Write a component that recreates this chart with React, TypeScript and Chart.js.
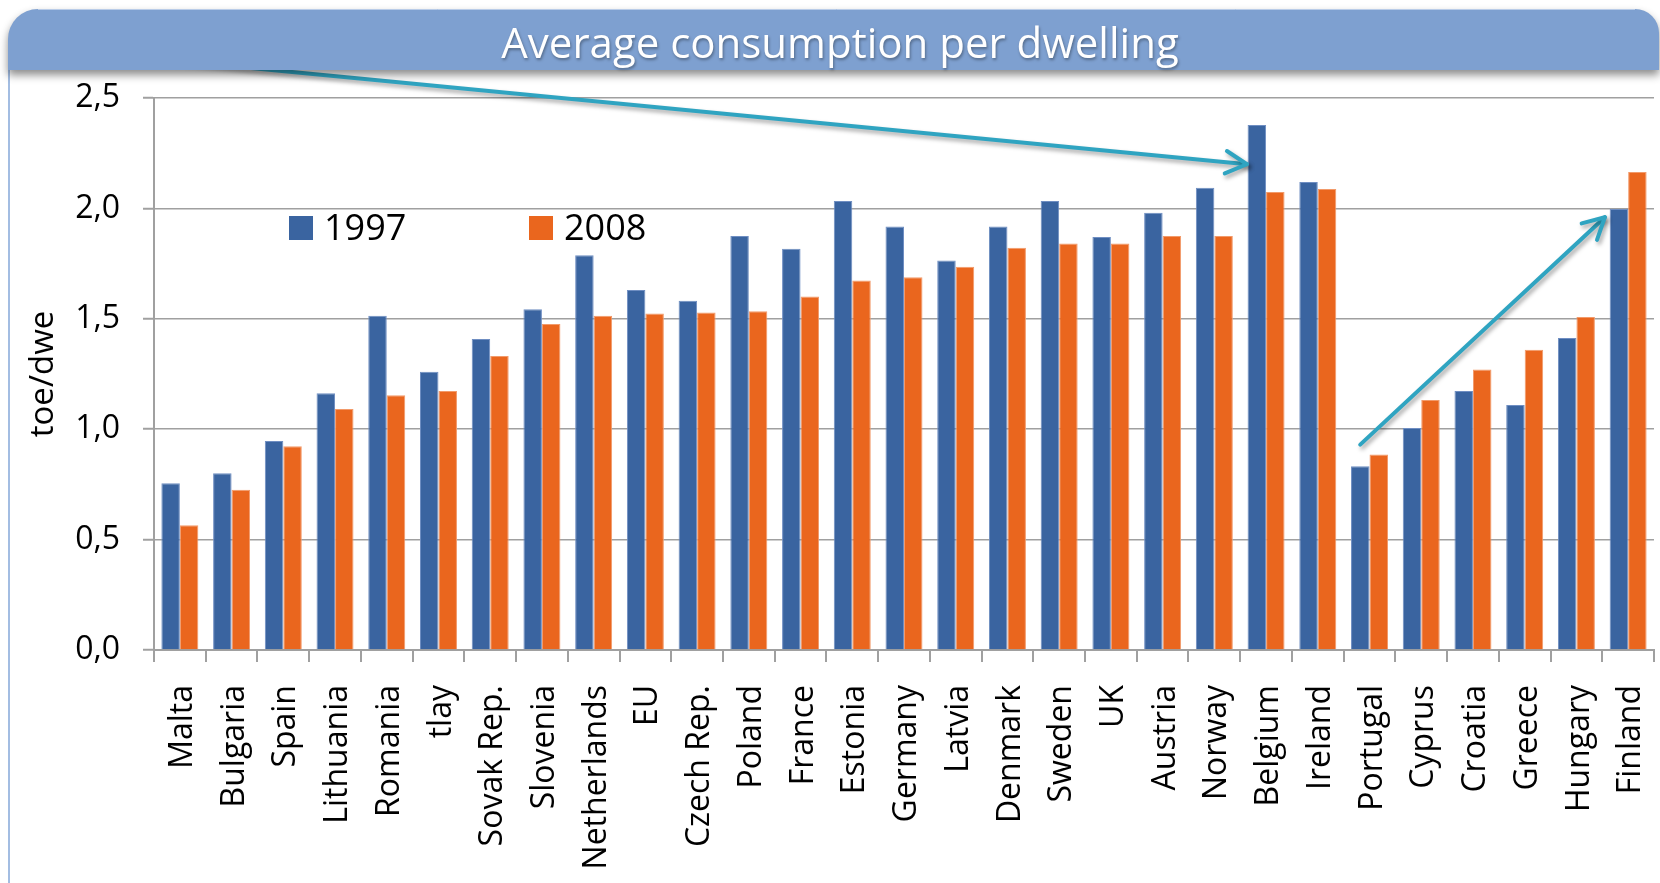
import React, { useEffect, useRef } from 'react';
import { Chart, registerables } from 'chart.js';

Chart.register(...registerables);

const categories = [
  'Malta', 'Bulgaria', 'Spain', 'Lithuania', 'Romania', 'tlay', 'Sovak Rep.', 'Slovenia',
  'Netherlands', 'EU', 'Czech Rep.', 'Poland', 'France', 'Estonia', 'Germany', 'Latvia',
  'Denmark', 'Sweden', 'UK', 'Austria', 'Norway', 'Belgium', 'Ireland', 'Portugal',
  'Cyprus', 'Croatia', 'Greece', 'Hungary', 'Finland',
];

const series1997 = [
  0.755, 0.80, 0.947, 1.163, 1.514, 1.26, 1.409, 1.543,
  1.788, 1.63, 1.582, 1.875, 1.817, 2.034, 1.918, 1.764,
  1.918, 2.034, 1.87, 1.98, 2.093, 2.378, 2.12, 0.832,
  1.006, 1.173, 1.11, 1.413, 1.997,
];

const series2008 = [
  0.565, 0.726, 0.923, 1.091, 1.154, 1.173, 1.332, 1.476,
  1.514, 1.524, 1.529, 1.534, 1.601, 1.673, 1.688, 1.736,
  1.822, 1.841, 1.841, 1.875, 1.875, 2.074, 2.088, 0.885,
  1.132, 1.27, 1.36, 1.508, 2.165,
];

const seriesLabels = ['1997', '2008'];
const yMin = 0;
const yMax = 2.5;
const yStep = 0.5;
const titleText = 'Average consumption per dwelling';
const yAxisTitle = 'toe/dwe';

// annotation arrows, in data units: [category index, value]
const arrowStarts = [[-0.58, 2.68], [22.82, 0.93]];
const arrowEnds = [[20.63, 2.2], [27.55, 1.96]];

const FONT = "'Open Sans', 'DejaVu Sans', sans-serif";
const BLUE = '#3A64A0';
const ORANGE = '#EA661E';
const TEAL = '#2FA4C1';
const GRID = '#A0A0A0';

const decorPlugin = {
  id: 'decor',
  beforeDraw(chart: any) {
    const { ctx, width, height } = chart;
    ctx.save();
    ctx.fillStyle = '#ffffff';
    ctx.fillRect(0, 0, width, height);
    ctx.strokeStyle = '#A3BDE2';
    ctx.lineWidth = 2;
    ctx.beginPath();
    ctx.moveTo(9, 60);
    ctx.lineTo(9, height);
    ctx.stroke();
    ctx.restore();
  },
  afterDatasetsDraw(chart: any) {
    const { ctx, chartArea } = chart;
    const colors = [BLUE, ORANGE];
    const offsets = [135, 375];
    ctx.save();
    ctx.font = `36px ${FONT}`;
    ctx.textBaseline = 'alphabetic';
    ctx.textAlign = 'left';
    seriesLabels.forEach((lab, i) => {
      const x = chartArea.left + offsets[i];
      const y = chartArea.top + 118;
      ctx.fillStyle = colors[i];
      ctx.fillRect(x, y, 24, 24);
      ctx.fillStyle = '#000';
      ctx.fillText(lab, x + 35, y + 24);
    });
    ctx.restore();
  },
  afterDraw(chart: any) {
    const { ctx, width } = chart;
    const xs = chart.scales.x;
    const ys = chart.scales.y;
    // arrows
    ctx.save();
    ctx.beginPath();
    ctx.rect(0, 70, width, chart.height);
    ctx.clip();
    ctx.strokeStyle = TEAL;
    ctx.lineWidth = 4;
    ctx.lineCap = 'round';
    ctx.lineJoin = 'round';
    ctx.shadowColor = 'rgba(0,0,0,0.35)';
    ctx.shadowBlur = 4;
    ctx.shadowOffsetX = 2;
    ctx.shadowOffsetY = 3;
    arrowStarts.forEach((s, i) => {
      const e = arrowEnds[i];
      const x0 = xs.getPixelForValue(s[0]);
      const y0 = ys.getPixelForValue(s[1]);
      const x1 = xs.getPixelForValue(e[0]);
      const y1 = ys.getPixelForValue(e[1]);
      const ang = Math.atan2(y1 - y0, x1 - x0);
      const len = 24;
      const spread = (28 * Math.PI) / 180;
      ctx.beginPath();
      ctx.moveTo(x0, y0);
      ctx.lineTo(x1, y1);
      ctx.stroke();
      ctx.beginPath();
      ctx.moveTo(x1 - len * Math.cos(ang - spread), y1 - len * Math.sin(ang - spread));
      ctx.lineTo(x1, y1);
      ctx.lineTo(x1 - len * Math.cos(ang + spread), y1 - len * Math.sin(ang + spread));
      ctx.stroke();
    });
    ctx.restore();

    // title bar
    const bx0 = 8, bx1 = 1659, by0 = 9, by1 = 70, r1 = 30, r2 = 24;
    ctx.save();
    ctx.beginPath();
    ctx.moveTo(bx0, by1);
    ctx.lineTo(bx0, by0 + r1);
    ctx.arcTo(bx0, by0, bx0 + r1, by0, r1);
    ctx.lineTo(bx1 - r2, by0);
    ctx.arcTo(bx1, by0, bx1, by0 + r2, r2);
    ctx.lineTo(bx1, by1);
    ctx.closePath();
    ctx.shadowColor = 'rgba(0,0,0,0.45)';
    ctx.shadowBlur = 8;
    ctx.shadowOffsetY = 5;
    ctx.fillStyle = '#7EA0D0';
    ctx.fill();
    ctx.shadowColor = 'transparent';
    ctx.strokeStyle = '#B9CCE8';
    ctx.lineWidth = 1;
    ctx.beginPath();
    ctx.moveTo(bx0 + r1, by0 + 0.5);
    ctx.lineTo(bx1 - r2, by0 + 0.5);
    ctx.stroke();
    ctx.font = `42px ${FONT}`;
    ctx.textAlign = 'center';
    ctx.textBaseline = 'alphabetic';
    ctx.shadowColor = 'rgba(0,0,0,0.35)';
    ctx.shadowBlur = 3;
    ctx.shadowOffsetX = 1;
    ctx.shadowOffsetY = 2;
    ctx.fillStyle = '#ffffff';
    ctx.fillText(titleText, 840, 58);
    ctx.restore();
  },
};

export default function App() {
  const ref = useRef<HTMLCanvasElement | null>(null);

  useEffect(() => {
    if (!ref.current) return;
    const chart = new Chart(ref.current, {
      type: 'bar',
      data: {
        labels: categories,
        datasets: [
          {
            label: seriesLabels[0],
            data: series1997,
            backgroundColor: BLUE,
            borderColor: '#6F8EC2',
            borderWidth: 1,
            categoryPercentage: 0.715,
            barPercentage: 1,
          },
          {
            label: seriesLabels[1],
            data: series2008,
            backgroundColor: ORANGE,
            borderColor: '#F29A6A',
            borderWidth: 1,
            categoryPercentage: 0.715,
            barPercentage: 1,
          },
        ],
      },
      options: {
        responsive: false,
        animation: false,
        layout: { padding: { top: 98, left: 0, right: 6, bottom: 0 } },
        plugins: {
          legend: { display: false },
          title: { display: false },
          tooltip: { enabled: false },
        },
        scales: {
          x: {
            offset: true,
            afterFit: (s: any) => {
              s.height = 233;
              s.paddingLeft = 0;
              s.paddingRight = 0;
            },
            grid: {
              display: true,
              offset: true,
              drawOnChartArea: false,
              drawTicks: true,
              tickLength: 12,
              color: GRID,
              lineWidth: 2,
            },
            border: { display: true, color: GRID, width: 2 },
            ticks: {
              autoSkip: false,
              maxRotation: 90,
              minRotation: 90,
              padding: 23,
              labelOffset: 3,
              color: '#000',
              font: { family: FONT, size: 32 },
            },
          },
          y: {
            min: yMin,
            max: yMax,
            afterFit: (s: any) => {
              s.width = 154;
              s.paddingTop = 0;
              s.paddingBottom = 0;
            },
            grid: {
              color: GRID,
              lineWidth: 1.5,
              borderDash: [2, 2],
              drawTicks: true,
              tickLength: 11,
              tickColor: GRID,
              tickWidth: 2,
              tickBorderDash: [],
            },
            border: { display: true, color: GRID, width: 2 },
            ticks: {
              stepSize: yStep,
              padding: 23,
              color: '#000',
              font: { family: FONT, size: 32 },
              callback: (v: any) => Number(v).toFixed(1).replace('.', ','),
            },
            title: {
              display: true,
              text: yAxisTitle,
              color: '#000',
              font: { family: FONT, size: 33 },
              padding: { top: 24, bottom: 0 },
            },
          },
        },
      },
      plugins: [decorPlugin],
    });
    return () => chart.destroy();
  }, []);

  return (
    <div style={{ position: 'fixed', left: 0, top: 0, width: 1660, height: 883, background: '#fff' }}>
      <canvas ref={ref} width={1660} height={883} style={{ width: 1660, height: 883, display: 'block' }} />
    </div>
  );
}
